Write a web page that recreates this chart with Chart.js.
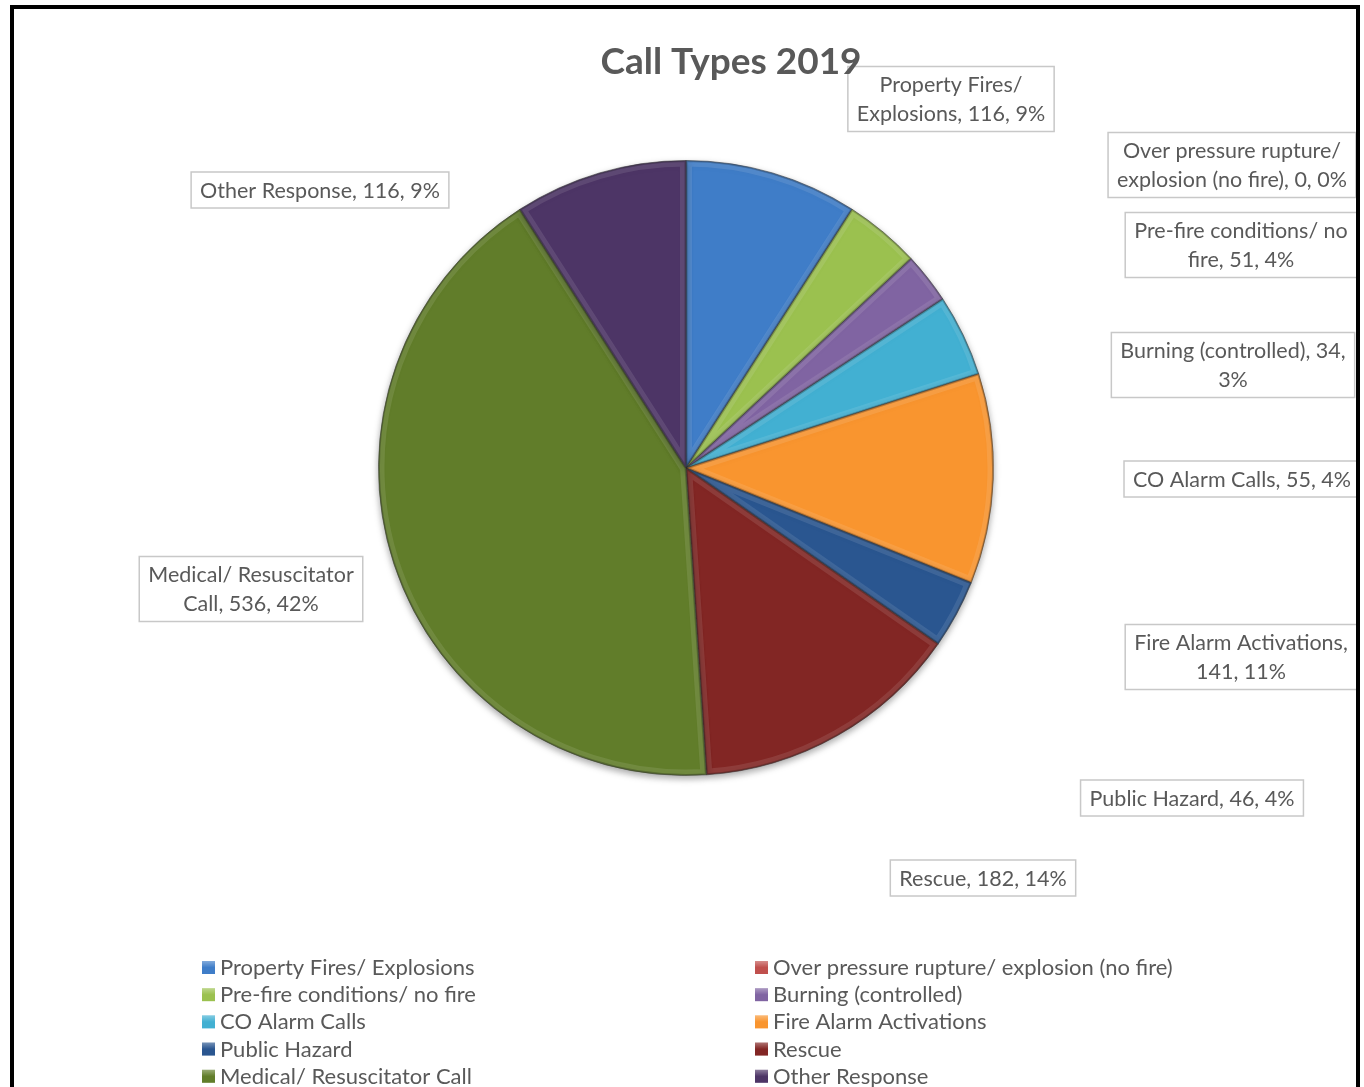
<!DOCTYPE html>
<html>
<head>
<meta charset="utf-8">
<script src="https://cdn.jsdelivr.net/npm/chart.js@4"></script>
<style>
  html, body { margin: 0; padding: 0; background: #fff; }
  #wrap { position: absolute; left: 0; top: 0; width: 1364px; height: 1087px; }
</style>
</head>
<body>
<div id="wrap"><canvas id="callChart" width="1364" height="1087"></canvas></div>
<script>
// Call types 2019
const categories = [
    "Property Fires/ Explosions",
    "Over pressure rupture/ explosion (no fire)",
    "Pre-fire conditions/ no fire",
    "Burning (controlled)",
    "CO Alarm Calls",
    "Fire Alarm Activations",
    "Public Hazard",
    "Rescue",
    "Medical/ Resuscitator Call",
    "Other Response"
];
const callCounts = [116, 0, 51, 34, 55, 141, 46, 182, 536, 116];
const sliceColors = ["#3F7DC8", "#C0504D", "#9BC14F", "#8064A2", "#42B0D2",
                     "#F9952F", "#2A5690", "#822624", "#617D2A", "#4D3566"];

// label boxes: centre point and wrap width (page pixels)
const labelSpots = [
    { x: 951, y: 99, wrap: 205 },
    { x: 1232, y: 165, wrap: 255 },
    { x: 1241, y: 245, wrap: 232 },
    { x: 1233, y: 365, wrap: 248 },
    { x: 1242, y: 479, wrap: 248 },
    { x: 1241, y: 657, wrap: 232 },
    { x: 1192, y: 798, wrap: 240 },
    { x: 983, y: 878, wrap: 240 },
    { x: 251, y: 589, wrap: 222 },
    { x: 320, y: 190, wrap: 265 }
];

const FONT = "Lato, 'Open Sans', sans-serif";
const total = callCounts.reduce((a, b) => a + b, 0);

function wrapText(ctx, text, maxW) {
    let words = text.split(" ");
    let lines = [];
    let line = "";
    words.forEach(w => {
        let test = line ? line + " " + w : w;
        if (line && ctx.measureText(test).width > maxW) {
            lines.push(line);
            line = w;
        } else {
            line = test;
        }
    });
    if (line) lines.push(line);
    return lines;
}

const bevelPlugin = {
    id: "bevel",
    beforeDatasetsDraw(chart) {
        const ctx = chart.ctx;
        ctx.save();
        ctx.shadowColor = "rgba(0,0,0,0.35)";
        ctx.shadowBlur = 7;
        ctx.shadowOffsetY = 3;
    },
    afterDatasetsDraw(chart) {
        const ctx = chart.ctx;
        ctx.restore();
        chart.getDatasetMeta(0).data.forEach(arc => {
            const p = arc.getProps(["x", "y", "startAngle", "endAngle", "outerRadius"], true);
            if (p.endAngle - p.startAngle < 0.001) return;
            ctx.save();
            ctx.beginPath();
            ctx.moveTo(p.x, p.y);
            ctx.arc(p.x, p.y, p.outerRadius, p.startAngle, p.endAngle);
            ctx.closePath();
            ctx.clip();
            ctx.lineJoin = "round";
            ctx.strokeStyle = "rgba(255,255,255,0.10)";
            ctx.lineWidth = 12;
            ctx.stroke();
            ctx.strokeStyle = "rgba(0,0,0,0.22)";
            ctx.lineWidth = 3;
            ctx.stroke();
            ctx.restore();
        });
    }
};

const decorPlugin = {
    id: "decor",
    afterDraw(chart) {
        const ctx = chart.ctx;
        ctx.save();
        ctx.textAlign = "center";
        ctx.textBaseline = "middle";

        // data labels, clipped to the frame
        ctx.save();
        ctx.beginPath();
        ctx.rect(14, 9, 1342, 1078);
        ctx.clip();
        ctx.font = "21.5px " + FONT;
        categories.forEach((name, i) => {
            const pct = Math.round(callCounts[i] / total * 100);
            const text = name + ", " + callCounts[i] + ", " + pct + "%";
            const spot = labelSpots[i];
            const lines = wrapText(ctx, text, spot.wrap);
            const lh = 29;
            const w = Math.max(...lines.map(l => ctx.measureText(l).width)) + 18;
            const h = lines.length * lh + 7;
            ctx.fillStyle = "#fff";
            ctx.fillRect(spot.x - w / 2, spot.y - h / 2, w, h);
            ctx.strokeStyle = "#C8C8C8";
            ctx.lineWidth = 1.5;
            ctx.strokeRect(spot.x - w / 2, spot.y - h / 2, w, h);
            ctx.fillStyle = "#595959";
            lines.forEach((l, k) => {
                ctx.fillText(l, spot.x, spot.y - (lines.length - 1) * lh / 2 + k * lh + 1);
            });
        });
        ctx.restore();

        // title (sits on top of the label boxes)
        ctx.fillStyle = "#595959";
        ctx.font = "bold 37px " + FONT;
        ctx.fillText("Call Types 2019", 731, 62);

        // legend in two columns
        ctx.font = "22px " + FONT;
        ctx.textAlign = "left";
        categories.forEach((name, i) => {
            const col = i % 2, row = Math.floor(i / 2);
            const mx = col === 0 ? 202 : 755;
            const my = 967 + row * 27.2;
            const g = ctx.createLinearGradient(mx, my - 6, mx, my + 7);
            g.addColorStop(0, "rgba(255,255,255,0.35)");
            g.addColorStop(0.5, "rgba(255,255,255,0)");
            ctx.fillStyle = sliceColors[i];
            ctx.fillRect(mx, my - 6, 13, 13);
            ctx.fillStyle = g;
            ctx.fillRect(mx, my - 6, 13, 13);
            ctx.fillStyle = "#595959";
            ctx.fillText(name, mx + 18, my + 1);
        });

        // black frame
        ctx.fillStyle = "#fff";
        ctx.fillRect(1360, 0, 4, 1087);
        ctx.fillStyle = "#000";
        ctx.fillRect(10, 5, 1350, 4);
        ctx.fillRect(10, 5, 4, 1082);
        ctx.fillRect(1356, 5, 4, 1082);
        ctx.restore();
    }
};

new Chart(document.getElementById("callChart"), {
    type: "pie",
    data: {
        labels: categories,
        datasets: [{
            data: callCounts,
            backgroundColor: sliceColors,
            borderColor: "rgba(40,40,40,0.5)",
            borderWidth: 1,
            hoverOffset: 0
        }]
    },
    options: {
        responsive: false,
        animation: false,
        events: [],
        layout: { padding: { left: 378, right: 370, top: 160, bottom: 311 } },
        plugins: {
            legend: { display: false },
            title: { display: false },
            tooltip: { enabled: false }
        }
    },
    plugins: [bevelPlugin, decorPlugin]
});
</script>
</body>
</html>
